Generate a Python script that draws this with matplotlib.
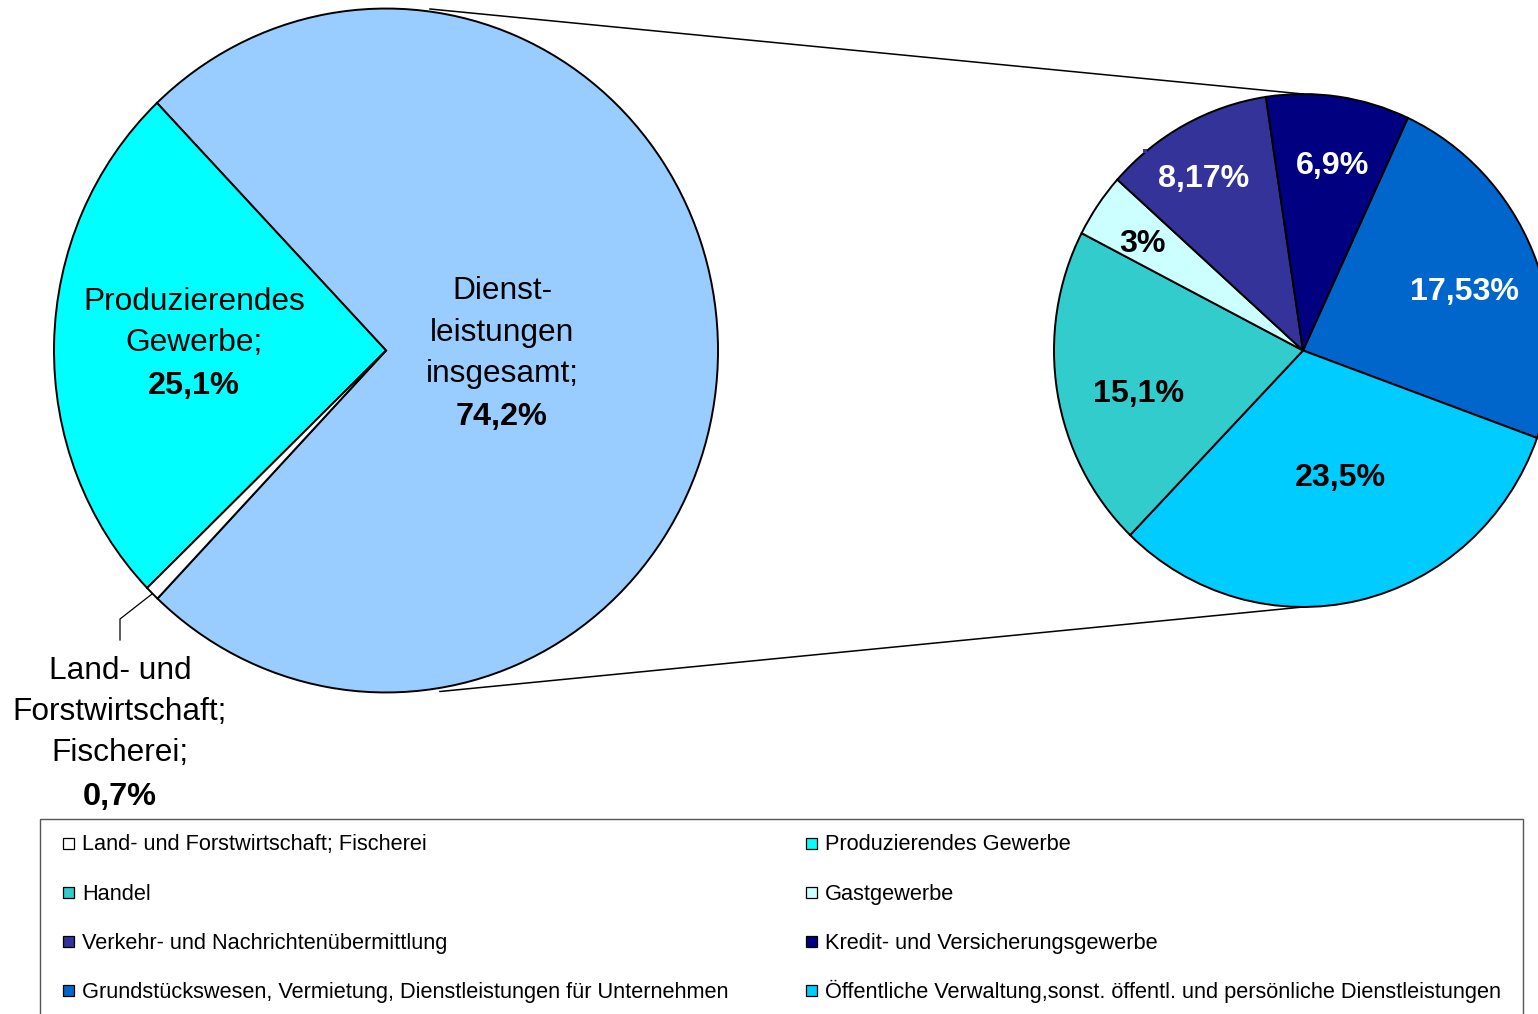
import matplotlib
matplotlib.use('Agg')
import matplotlib.pyplot as plt
from matplotlib.patches import Rectangle

plt.rcParams['font.family'] = ['Liberation Sans', 'DejaVu Sans']

# Hauptkreis
haupt_namen = ['Dienstleistungen insgesamt', 'Produzierendes Gewerbe', 'Land- und Forstwirtschaft; Fischerei']
haupt_werte = [74.2, 25.1, 0.7]
haupt_farben = ['#99CCFF', '#00FFFF', '#FFFFFF']

# Aufteilung Dienstleistungen (Anteile am Gesamt)
dienst_namen = ['Grundstückswesen, Vermietung, Dienstleistungen für Unternehmen',
                'Öffentliche Verwaltung,sonst. öffentl. und persönliche Dienstleistungen',
                'Handel', 'Gastgewerbe', 'Verkehr- und Nachrichtenübermittlung',
                'Kredit- und Versicherungsgewerbe']
dienst_werte = [17.53, 23.5, 15.1, 3, 8.17, 6.9]
dienst_farben = ['#0066CC', '#00CCFF', '#33CCCC', '#CCFFFF', '#333399', '#000080']
dienst_textfarbe = ['white', 'black', 'black', 'black', 'white', 'white']

legende_namen = ['Land- und Forstwirtschaft; Fischerei', 'Produzierendes Gewerbe',
                 'Handel', 'Gastgewerbe',
                 'Verkehr- und Nachrichtenübermittlung', 'Kredit- und Versicherungsgewerbe',
                 'Grundstückswesen, Vermietung, Dienstleistungen für Unternehmen',
                 'Öffentliche Verwaltung,sonst. öffentl. und persönliche Dienstleistungen']
legende_farben = ['#FFFFFF', '#00FFFF', '#33CCCC', '#CCFFFF', '#333399', '#000080', '#0066CC', '#00CCFF']

W, H = 1538, 1014
K = 1.03  # Kreise sind leicht gestreckt


def Y(py):
    return (H - py) / K


def fmt(v):
    return ('%g' % v).replace('.', ',') + '%'


fig = plt.figure(figsize=(W / 100, H / 100), dpi=100)
ax = fig.add_axes([0, 0, 1, 1])

wp = dict(edgecolor='black', linewidth=1.4)
ax.pie(haupt_werte, colors=haupt_farben, startangle=226.5, counterclock=True,
       center=(386, Y(350.5)), radius=332, wedgeprops=wp)
ax.pie(dienst_werte, colors=dienst_farben, startangle=65.1, counterclock=False,
       center=(1303, Y(350.5)), radius=249, wedgeprops=wp)

ax.set_aspect('auto')
ax.set_xlim(0, W)
ax.set_ylim(0, H / K)
ax.axis('off')

# Verbindungslinien
ax.plot([430, 1303], [Y(9), Y(94)], color='black', lw=1.1)
ax.plot([440, 1303], [Y(691.5), Y(607)], color='black', lw=1.1)

# Beschriftung Hauptkreis
fs = 22.8
def zeilen(x, ys, texte):
    for i, (yy, t) in enumerate(zip(ys, texte)):
        fw = 'bold' if i == len(texte) - 1 else 'normal'
        ax.text(x, Y(yy + 11), t, ha='center', va='baseline', fontweight=fw,
                fontsize=23.4 if fw == 'bold' else fs)

zeilen(194, [299, 340, 383], ['Produzierendes', 'Gewerbe;', fmt(haupt_werte[1])])
zeilen(502, [288, 330, 371, 414], ['Dienst-', 'leistungen', 'insgesamt;', fmt(haupt_werte[0])])
zeilen(120, [668, 709, 750, 794], ['Land- und', 'Forstwirtschaft;', 'Fischerei;', fmt(haupt_werte[2])])
ax.plot([152, 120, 120], [Y(594), Y(619), Y(640)], color='black', lw=0.9)

# Beschriftung Dienstleistungskreis
pos = [(1464, 289), (1340, 475), (1139, 391), (1142, 241), (1204, 176), (1333, 163)]
for v, (px, py), c in zip(dienst_werte, pos, dienst_textfarbe):
    ax.text(px, Y(py + 11), fmt(v), ha='center', va='baseline', fontsize=23.2,
            fontweight='bold', color=c)
ax.add_patch(Rectangle((1143, Y(153)), 4, 4 / K, color='#333399', lw=0))

# Legende
ax.add_patch(Rectangle((40, Y(1020)), 1483, (1020 - 819) / K, fill=False,
                       edgecolor='#555555', lw=1.0))
for i, (name, farbe) in enumerate(zip(legende_namen, legende_farben)):
    sx = 63 if i % 2 == 0 else 806
    zy = 843 + (i // 2) * 49.3
    ax.add_patch(Rectangle((sx, Y(zy + 5.5)), 11, 11 / K, facecolor=farbe,
                           edgecolor='black', lw=0.9))
    ax.text(sx + 19, Y(zy + 7.3), name, ha='left', va='baseline', fontsize=15.7)

fig.savefig('out.png', dpi=100)
